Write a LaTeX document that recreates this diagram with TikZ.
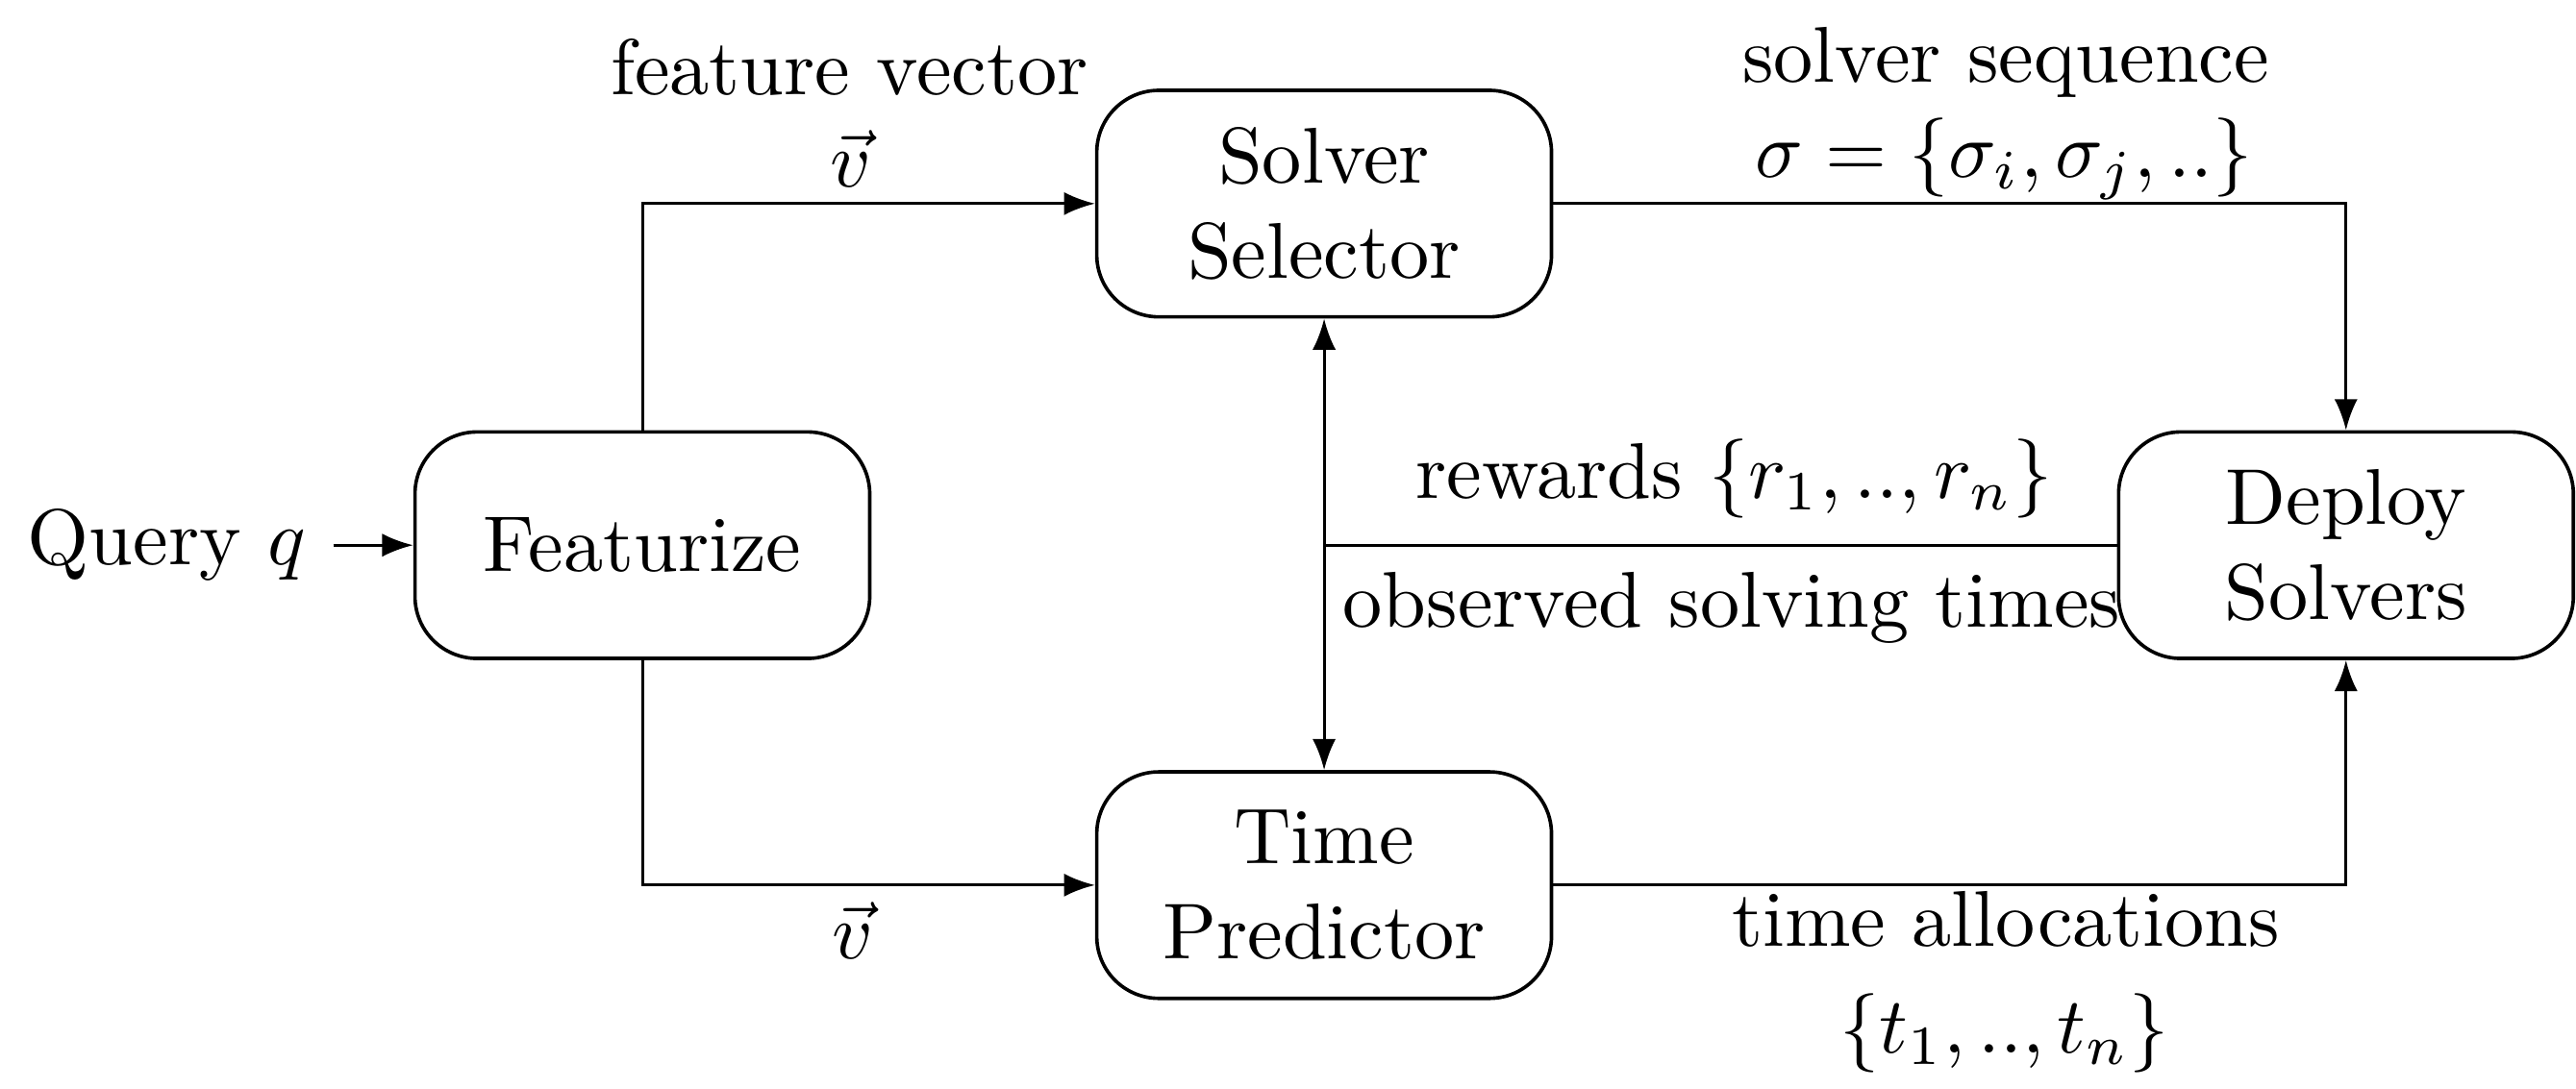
\RequirePackage{fix-cm}
\documentclass[tikz,border=0pt]{standalone}
\usetikzlibrary{arrows.meta}
\begin{document}
\begin{tikzpicture}[x=0.2117pt,y=-0.2117pt,
  every node/.style={font=\fontsize{10.2pt}{12.3pt}\selectfont},
  blockbox/.style={draw,line width=0.45pt,rounded corners=8pt,minimum width=58.6pt,minimum height=29.2pt,align=center,inner sep=2pt},
  conn/.style={line width=0.38pt,-{Latex[length=4pt,width=3pt]}},
  plainconn/.style={line width=0.38pt},
  lbl/.style={anchor=base,inner sep=0pt}]
\useasboundingbox (0,0) rectangle (1568,663);
% blocks
\node[blockbox] (feat) at (391,332) {Featurize};
\node[blockbox] (sel) at (806,124) {Solver\\Selector};
\node[blockbox] (pred) at (806,539) {Time\\Predictor};
\node[blockbox] (dep) at (1428,332) {Deploy\\Solvers};
\node (query) at (101.5,332) {Query $q$};
% connectors
\draw[conn] (query) -- (feat);
\draw[conn] (feat.north) |- (sel.west);
\draw[conn] (feat.south) |- (pred.west);
\draw[conn] (sel.east) -| (dep.north);
\draw[conn] (pred.east) -| (dep.south);
\draw[line width=0.38pt,{Latex[length=4pt,width=3pt]}-{Latex[length=4pt,width=3pt]}] (sel.south) -- (pred.north);
\coordinate (junc) at (sel.south |- dep.west);
\draw[plainconn] (dep.west) -- node[above,xshift=1.75pt] (rew) {rewards $\{r_1,..,r_n\}$} node[below,xshift=1.45pt] (obs) {observed solving times} (junc);
% labels
\node[lbl] (fv) at (517,57.5) {feature vector};
\node[lbl] (vtop) at (518,114) {$\vec{v}$};
\node[lbl] (vbot) at (519,584) {$\vec{v}$};
\node[lbl] (ss) at (1221,49.8) {solver sequence};
\node[lbl] (sig) at (1220,108) {$\sigma = \{\sigma_i,\sigma_j,..\}$};
\node[lbl] (ta) at (1221,576.5) {time allocations};
\node[lbl] (tset) at (1220,641) {$\{t_1,..,t_n\}$};
\end{tikzpicture}
\end{document}
